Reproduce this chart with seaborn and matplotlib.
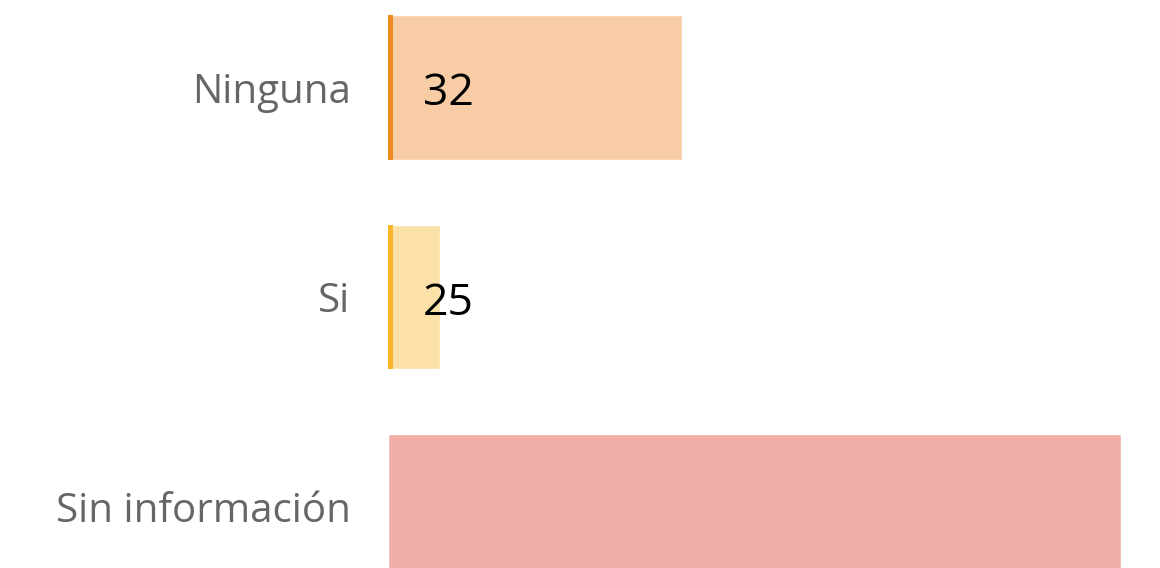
import matplotlib
matplotlib.use("Agg")
import matplotlib.pyplot as plt
import seaborn as sns
import pandas as pd

# Data
categories = ["Ninguna", "Si", "Sin información"]
values = [32, 25, 44.7]
show_value = [True, True, False]

fill_colors = ["#F8CDA6", "#FBE0A8", "#F2AFA7"]
stripe_colors = ["#F08A22", "#FBB62D", None]

sns.set_theme(style="white")
plt.rcParams['font.family'] = ['Open Sans', 'DejaVu Sans']

df = pd.DataFrame({"category": categories, "value": values})

fig = plt.figure(figsize=(11.6, 5.68), dpi=100)
ax = fig.add_axes([388 / 1160, 0, 1 - 388 / 1160, 1])

x_min = 23.5
sns.barplot(data=df, y="category", x="value", hue="category",
            palette=fill_colors, orient="h", width=0.69, legend=False,
            ax=ax, saturation=1)

# the bars start at x_min rather than zero, as in the source
for p in ax.patches:
    p.set_x(x_min)
    p.set_width(p.get_width() - x_min)

# thin darker stripe on the left edge of each bar
for i, c in enumerate(stripe_colors):
    if c is None:
        continue
    ax.barh(i, 0.14, left=x_min, height=0.69, color=c, linewidth=0)

for i, v in enumerate(values):
    if show_value[i]:
        ax.text(x_min + 1.0, i + 0.03, f"{v:g}", va="center", ha="left",
                fontsize=32, color="black")

ax.set_xlim(x_min, x_min + (1160 - 388) / 34.57)
ax.set_ylim(2.294, -0.418)
ax.set_xlabel("")
ax.set_ylabel("")
ax.set_xticks([])
ax.tick_params(axis="y", length=0, pad=27, labelsize=29, labelcolor="#666666")
sns.despine(ax=ax, left=True, bottom=True)

fig.savefig("out.png", dpi=100)
